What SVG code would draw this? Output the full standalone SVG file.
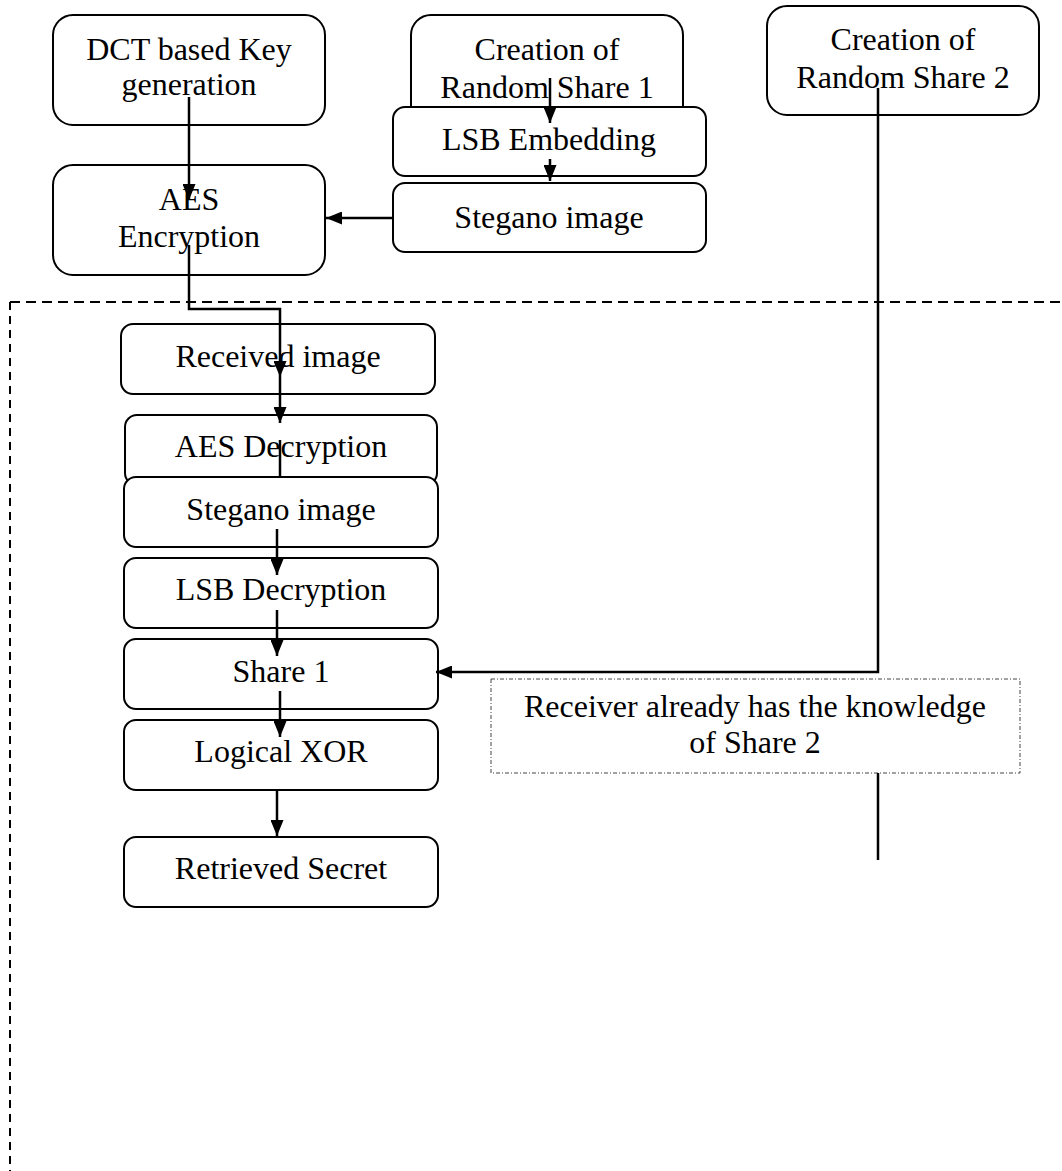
<svg xmlns="http://www.w3.org/2000/svg" width="1062" height="1171" viewBox="0 0 1062 1171">
<style>
.box{fill:#fff;stroke:#000;stroke-width:2}
.t{font-family:"Liberation Serif","Times New Roman",serif;font-size:32px;fill:#000;text-anchor:middle}
.c{fill:none;stroke:#000;stroke-width:2.5}
.ca{fill:none;stroke:#000;stroke-width:2.5;marker-end:url(#ah)}
</style>
<defs>
<marker id="ah" markerUnits="userSpaceOnUse" markerWidth="16" markerHeight="13" refX="16" refY="6.5" orient="auto">
<path d="M0,0 L16,6.5 L0,13 z" fill="#000"/>
</marker>
</defs>
<rect width="1062" height="1171" fill="#fff"/>
<g id="boundary">
<line x1="10" y1="302" x2="1062" y2="302" stroke="#000" stroke-width="2" stroke-dasharray="10,6"/>
<line x1="10" y1="302" x2="10" y2="1171" stroke="#000" stroke-width="2" stroke-dasharray="8,6"/>
</g>
<g id="dct"><rect class="box" x="53" y="15" width="272" height="110" rx="20"/>
<text class="t" x="189" y="60">DCT based Key</text><text class="t" x="189" y="95">generation</text></g>
<g id="aesenc"><rect class="box" x="53" y="165" width="272" height="110" rx="20"/>
<text class="t" x="189" y="210">AES</text><text class="t" x="189" y="247">Encryption</text></g>
<g id="share1create"><rect class="box" x="411" y="15" width="272" height="120" rx="20"/>
<text class="t" x="547" y="60">Creation of</text><text class="t" x="547" y="98">Random Share 1</text></g>
<g id="lsbembed"><rect class="box" x="393" y="107" width="313" height="69" rx="12"/>
<text class="t" x="549" y="150">LSB Embedding</text></g>
<g id="steganotop"><rect class="box" x="393" y="183" width="313" height="69" rx="12"/>
<text class="t" x="549" y="228">Stegano image</text></g>
<g id="share2create"><rect class="box" x="767" y="6" width="272" height="109" rx="20"/>
<text class="t" x="903" y="50">Creation of</text><text class="t" x="903" y="88">Random Share 2</text></g>
<g id="received"><rect class="box" x="121" y="324" width="314" height="70" rx="12"/>
<text class="t" x="278" y="367">Received image</text></g>
<g id="aesdec"><rect class="box" x="125" y="415" width="312" height="70" rx="12"/>
<text class="t" x="281" y="457">AES Decryption</text></g>
<g id="steganobottom"><rect class="box" x="124" y="477" width="314" height="70" rx="12"/>
<text class="t" x="281" y="520">Stegano image</text></g>
<g id="lsbdec"><rect class="box" x="124" y="558" width="314" height="70" rx="12"/>
<text class="t" x="281" y="600">LSB Decryption</text></g>
<g id="share1"><rect class="box" x="124" y="639" width="314" height="70" rx="12"/>
<text class="t" x="281" y="682">Share 1</text></g>
<g id="xor"><rect class="box" x="124" y="720" width="314" height="70" rx="12"/>
<text class="t" x="281" y="762">Logical XOR</text></g>
<g id="secret"><rect class="box" x="124" y="837" width="314" height="70" rx="12"/>
<text class="t" x="281" y="879">Retrieved Secret</text></g>
<g id="note"><rect x="491" y="679" width="529" height="94" fill="#fff" stroke="#444" stroke-width="1" stroke-dasharray="4,2,1,2"/>
<text class="t" x="755" y="717">Receiver already has the knowledge</text><text class="t" x="755" y="753">of Share 2</text></g>
<g id="connectors">
<path class="ca" d="M189,97 L189,200"/>
<path class="ca" d="M550,78 L550,123"/>
<path class="ca" d="M550,159 L550,181"/>
<path class="ca" d="M393,218 L326,218"/>
<path class="ca" d="M189,245 L189,309 L280,309 L280,377"/>
<path class="ca" d="M280,377 L280,423"/>
<path class="c" d="M280,440 L280,477"/>
<path class="ca" d="M277,529 L277,575"/>
<path class="ca" d="M277,610 L277,656"/>
<path class="ca" d="M280,691 L280,737"/>
<path class="ca" d="M277,790 L277,836"/>
<path class="ca" d="M878,88 L878,672 L436,672"/>
<path class="c" d="M878,773 L878,860"/>
</g>
</svg>
